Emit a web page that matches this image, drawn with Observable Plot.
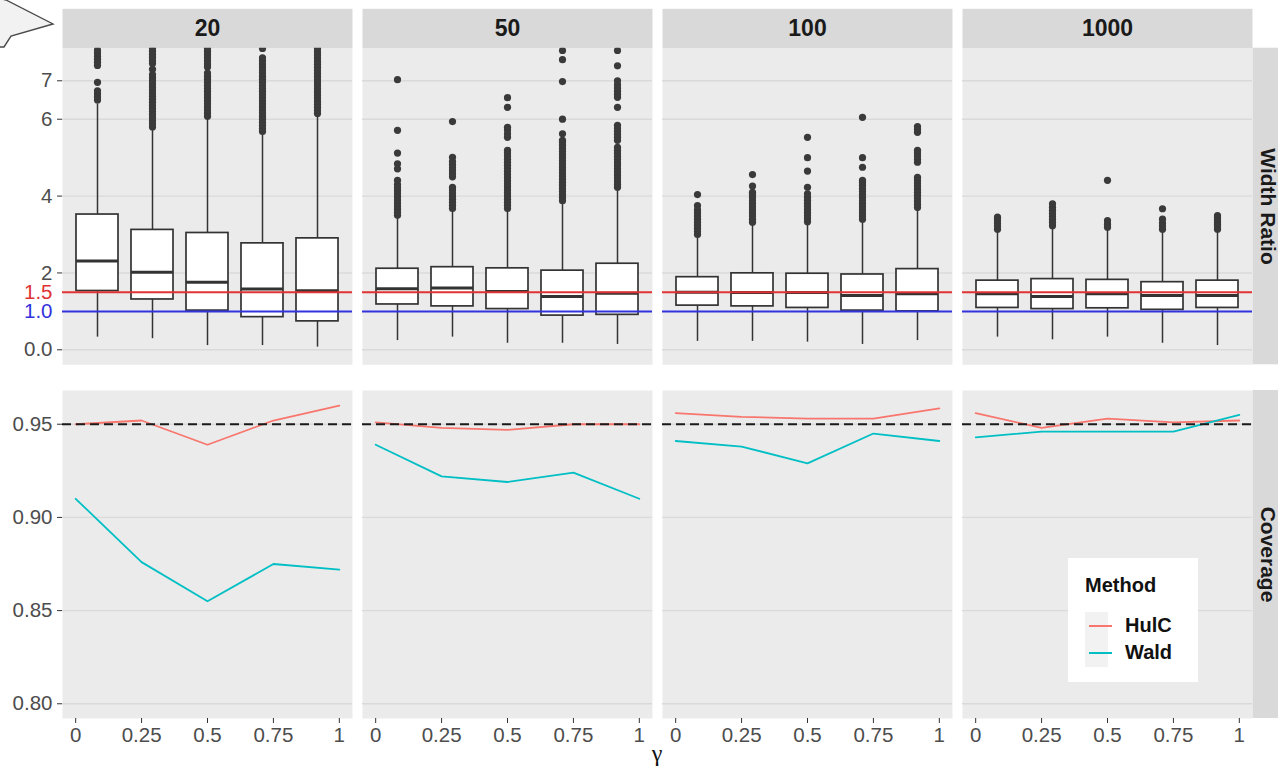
<!DOCTYPE html>
<html><head><meta charset="utf-8">
<script src="https://cdn.jsdelivr.net/npm/d3@7"></script>
<script src="https://cdn.jsdelivr.net/npm/@observablehq/plot@0.6"></script>
<style>
html,body{margin:0;padding:0;background:#fff;overflow:hidden;}
#wrap{position:relative;width:1278px;height:769px;font-family:'Liberation Sans',Arial,sans-serif;}
#topchart,#bottomchart{position:absolute;left:0;}
#topchart{top:0}
#bottomchart{top:378px}
#bubble{position:absolute;left:0;top:0;}
#gamma{position:absolute;left:640px;top:740px;width:34px;text-align:center;font-family:'Liberation Serif','DejaVu Serif',serif;font-size:24px;color:#111;line-height:26px;}
#legend{position:absolute;left:1068px;top:558px;width:130px;height:124px;background:#fff;}
#legend .title{position:absolute;left:17px;top:16px;font-weight:bold;font-size:20px;color:#111;}
#legend .keys{position:absolute;left:17px;top:54px;width:23px;height:55px;background:#F2F2F2;}
#legend .key{position:absolute;left:4px;width:23px;height:2px;}
#legend .lab{position:absolute;left:57px;font-weight:bold;font-size:20px;color:#111;}
</style></head><body>
<div id="wrap">
<div id="topchart"></div><div id="bottomchart"></div>
<svg id="bubble" width="60" height="50"><polygon points="-2,-2 6,0 53,24 11,36 4,47 -2,47" fill="#F2F2F2" stroke="#4a4a4a" stroke-width="1.4"/></svg>
<div id="gamma">γ</div>
<div id="legend"></div>
</div>
<script>
// ---------- data ----------
const sampleSizes = [20, 50, 100, 1000];
const gammaLabels = ["0", "0.25", "0.5", "0.75", "1"];
const gammaValues = [0, 0.25, 0.5, 0.75, 1];
const methods = ["HulC", "Wald"];
const methodColors = ["#F8766D", "#00BFC4"];

// Width ratio boxplot summaries, rows = sample size, cols = gamma
const whiskerLow = [
  [0.33, 0.29, 0.11, 0.11, 0.07],
  [0.24, 0.33, 0.17, 0.17, 0.14],
  [0.22, 0.22, 0.20, 0.14, 0.24],
  [0.33, 0.26, 0.33, 0.17, 0.11]];
const boxQ1 = [
  [1.53, 1.31, 1.02, 0.85, 0.74],
  [1.18, 1.13, 1.06, 0.89, 0.91],
  [1.15, 1.13, 1.09, 1.02, 1.00],
  [1.09, 1.06, 1.08, 1.04, 1.09]];
const boxMedian = [
  [2.31, 2.02, 1.76, 1.58, 1.54],
  [1.59, 1.61, 1.52, 1.39, 1.47],
  [1.50, 1.49, 1.49, 1.41, 1.46],
  [1.46, 1.39, 1.46, 1.41, 1.41]];
const boxQ3 = [
  [3.52, 3.12, 3.04, 2.77, 2.90],
  [2.11, 2.15, 2.12, 2.06, 2.24],
  [1.89, 1.99, 1.98, 1.96, 2.10],
  [1.80, 1.84, 1.82, 1.76, 1.80]];
const whiskerHigh = [
  [6.40, 5.76, 6.04, 5.63, 6.10],
  [3.45, 3.64, 3.64, 3.84, 4.19],
  [2.97, 3.28, 3.29, 3.36, 3.67],
  [3.10, 3.19, 3.15, 3.10, 3.10]];
const outliers = [
  [
    [6.5, 6.58, 6.66, 6.74, 6.96, 7.4, 7.48, 7.56, 7.64, 7.72, 7.8],
    [5.8, 5.88, 5.96, 6.04, 6.12, 6.2, 6.28, 6.36, 6.44, 6.52, 6.6, 6.68, 6.76, 6.84, 6.92, 7.0, 7.08, 7.16, 7.3, 7.45, 7.53, 7.61, 7.69, 7.77, 7.84],
    [6.08, 6.16, 6.24, 6.32, 6.4, 6.48, 6.56, 6.64, 6.72, 6.8, 6.88, 6.96, 7.04, 7.12, 7.2, 7.36, 7.44, 7.52, 7.6, 7.68, 7.76, 7.84],
    [5.68, 5.76, 5.84, 5.92, 6.0, 6.08, 6.16, 6.24, 6.32, 6.4, 6.48, 6.56, 6.64, 6.72, 6.8, 6.88, 6.96, 7.04, 7.12, 7.2, 7.28, 7.36, 7.44, 7.52, 7.6, 7.84],
    [6.15, 6.23, 6.31, 6.39, 6.47, 6.55, 6.63, 6.71, 6.79, 6.87, 6.95, 7.03, 7.11, 7.19, 7.27, 7.35, 7.43, 7.51, 7.59, 7.67, 7.75, 7.84]
  ],
  [
    [3.5, 3.58, 3.66, 3.74, 3.82, 3.9, 3.98, 4.06, 4.14, 4.22, 4.3, 4.41, 4.71, 4.84, 5.12, 5.71, 7.03],
    [3.68, 3.76, 3.84, 3.92, 4.0, 4.08, 4.16, 4.23, 4.5, 4.58, 4.66, 4.74, 4.82, 4.9, 5.01, 5.94],
    [3.68, 3.76, 3.84, 3.92, 4.0, 4.08, 4.16, 4.24, 4.32, 4.4, 4.48, 4.56, 4.64, 4.72, 4.8, 4.88, 4.96, 5.04, 5.12, 5.19, 5.53, 5.62, 5.72, 5.79, 6.31, 6.56],
    [3.88, 3.96, 4.04, 4.12, 4.2, 4.28, 4.36, 4.44, 4.52, 4.6, 4.68, 4.76, 4.84, 4.92, 5.0, 5.08, 5.16, 5.24, 5.32, 5.4, 5.45, 5.62, 6.0, 6.98, 7.55, 7.79],
    [4.23, 4.31, 4.39, 4.47, 4.55, 4.63, 4.71, 4.79, 4.87, 4.95, 5.03, 5.11, 5.19, 5.27, 5.45, 5.53, 5.6, 5.68, 5.76, 5.84, 6.31, 6.57, 6.65, 6.73, 6.81, 6.9, 7.0, 7.39, 7.79]
  ],
  [
    [3.0, 3.08, 3.16, 3.24, 3.32, 3.4, 3.48, 3.56, 3.64, 3.75, 4.04],
    [3.32, 3.4, 3.48, 3.56, 3.64, 3.72, 3.8, 3.88, 3.96, 4.04, 4.1, 4.26, 4.56],
    [3.33, 3.41, 3.49, 3.57, 3.65, 3.73, 3.81, 3.89, 3.97, 4.06, 4.23, 4.65, 5.0, 5.53],
    [3.4, 3.48, 3.56, 3.64, 3.72, 3.8, 3.88, 3.96, 4.04, 4.12, 4.2, 4.28, 4.36, 4.41, 4.75, 5.0, 6.05],
    [3.7, 3.78, 3.86, 3.94, 4.02, 4.1, 4.18, 4.26, 4.34, 4.42, 4.49, 4.88, 4.96, 5.04, 5.12, 5.19, 5.66, 5.74, 5.81]
  ],
  [
    [3.14, 3.22, 3.3, 3.38, 3.45],
    [3.23, 3.31, 3.39, 3.47, 3.55, 3.63, 3.71, 3.8],
    [3.19, 3.27, 3.36, 4.41],
    [3.14, 3.22, 3.3, 3.4, 3.67],
    [3.14, 3.2, 3.26, 3.32, 3.38, 3.44, 3.49]
  ]];
const widthTicks = [0, 2, 4, 6, 7];
const refLineHulC = 1.5;
const refLineWald = 1.0;

// Coverage, rows = sample size, cols = gamma
const hulcCoverage = [
  [0.950, 0.952, 0.939, 0.952, 0.960],
  [0.951, 0.948, 0.947, 0.950, 0.950],
  [0.956, 0.954, 0.953, 0.953, 0.9585],
  [0.956, 0.948, 0.953, 0.951, 0.952]];
const waldCoverage = [
  [0.910, 0.876, 0.855, 0.875, 0.872],
  [0.939, 0.922, 0.919, 0.924, 0.910],
  [0.941, 0.938, 0.929, 0.945, 0.941],
  [0.943, 0.946, 0.946, 0.946, 0.955]];
const coverageTicks = [0.80, 0.85, 0.90, 0.95];
const nominalLevel = 0.95;

// ---------- tables ----------
const boxRows = [], outlierRows = [], covRows = [];
sampleSizes.forEach((n, i) => gammaLabels.forEach((g, j) => {
  boxRows.push({n, g, lo: whiskerLow[i][j], q1: boxQ1[i][j], med: boxMedian[i][j], q3: boxQ3[i][j], hi: whiskerHigh[i][j]});
  outliers[i][j].forEach(v => outlierRows.push({n, g, v}));
  covRows.push({n, gamma: gammaValues[j], cov: hulcCoverage[i][j], method: methods[0]});
}));
sampleSizes.forEach((n, i) => gammaValues.forEach((gv, j) => {
  covRows.push({n, gamma: gv, cov: waldCoverage[i][j], method: methods[1]});
}));

// ---------- layout ----------
const W = 1278, ML = 62, MR = 25.3;
const facetPad = 10 / 300;
const facetRange = W - ML - MR;
const bandW = facetRange / (sampleSizes.length - facetPad) * (1 - facetPad);
const TOP_H = 378, TOP_MT = 47.7, TOP_MB = 13.7;
const topPanelH = TOP_H - TOP_MT - TOP_MB;
const stripH = 39.4;
const tickFont = 20.5;
const font = "'Liberation Sans', Arial, sans-serif";
const styleObj = {fontFamily: font, fontSize: "20px", color: "#4D4D4D", background: "transparent", overflow: "visible"};
const lastN = sampleSizes[sampleSizes.length - 1];

const topChart = Plot.plot({
  width: W, height: TOP_H, marginTop: TOP_MT, marginBottom: TOP_MB, marginLeft: ML, marginRight: MR,
  style: styleObj,
  fx: {domain: sampleSizes, paddingInner: facetPad, paddingOuter: 0, axis: null, label: null},
  x: {type: "band", domain: gammaLabels, paddingInner: 0.23, paddingOuter: 0.215, axis: null, label: null},
  y: {domain: [-0.39, 7.848], label: null},
  marks: [
    Plot.frame({fill: "#EBEBEB"}),
    Plot.frame({fill: "#D9D9D9", insetTop: -stripH, insetBottom: topPanelH}),
    Plot.text(sampleSizes, {fx: d => d, text: d => String(d), frameAnchor: "top", dy: -stripH / 2, lineAnchor: "middle", fontSize: 23, fontWeight: "bold", fill: "#1A1A1A"}),
    Plot.rect([lastN], {fx: d => d, fill: "#D9D9D9", insetLeft: bandW + 0.4, insetRight: -45}),
    Plot.text([lastN], {fx: d => d, text: () => "Width Ratio", frameAnchor: "right", textAnchor: "middle", dx: 15, rotate: 90, lineAnchor: "middle", fontSize: 21, fontWeight: "bold", fill: "#1A1A1A"}),
    Plot.gridY(widthTicks, {stroke: "#DADADA", strokeOpacity: 1, strokeWidth: 1.4}),
    Plot.ruleX(boxRows, {fx: "n", x: "g", y1: "lo", y2: "hi", stroke: "#333", strokeWidth: 1.5}),
    Plot.barY(boxRows, {fx: "n", x: "g", y1: "q1", y2: "q3", fill: "white", stroke: "#333", strokeWidth: 1.7}),
    Plot.tickY(boxRows, {fx: "n", x: "g", y: "med", stroke: "#333", strokeWidth: 3}),
    Plot.dot(outlierRows, {fx: "n", x: "g", y: "v", r: 3.6, fill: "#3A3A3A", stroke: "none", clip: true}),
    Plot.ruleY([refLineHulC], {stroke: "#E03333", strokeWidth: 2}),
    Plot.ruleY([refLineWald], {stroke: "#3333DD", strokeWidth: 2}),
    Plot.axisY(widthTicks, {facetAnchor: "left", tickFormat: d => d === 0 ? "0.0" : String(d), tickSize: 5, tickPadding: 5, fill: "#4D4D4D", stroke: "#333", fontSize: tickFont, label: null}),
    Plot.axisY([refLineHulC], {facetAnchor: "left", tickFormat: d => d.toFixed(1), tickSize: 0, tickPadding: 10, fill: "#E03333", fontSize: tickFont, label: null}),
    Plot.axisY([refLineWald], {facetAnchor: "left", tickFormat: d => d.toFixed(1), tickSize: 0, tickPadding: 10, fill: "#3333DD", fontSize: tickFont, label: null})
  ]
});
document.getElementById("topchart").appendChild(topChart);

const BOT_H = 391, BOT_MT = 12, BOT_MB = 51;
const bottomChart = Plot.plot({
  width: W, height: BOT_H, marginTop: BOT_MT, marginBottom: BOT_MB, marginLeft: ML, marginRight: MR,
  style: styleObj,
  fx: {domain: sampleSizes, paddingInner: facetPad, paddingOuter: 0, axis: null, label: null},
  x: {domain: [-0.05, 1.05], label: null},
  y: {domain: [0.7921, 0.9681], label: null},
  color: {domain: methods, range: methodColors},
  marks: [
    Plot.frame({fill: "#EBEBEB"}),
    Plot.rect([lastN], {fx: d => d, fill: "#D9D9D9", insetLeft: bandW + 0.4, insetRight: -45}),
    Plot.text([lastN], {fx: d => d, text: () => "Coverage", frameAnchor: "right", textAnchor: "middle", dx: 15, rotate: 90, lineAnchor: "middle", fontSize: 21, fontWeight: "bold", fill: "#1A1A1A"}),
    Plot.gridY(coverageTicks, {stroke: "#DADADA", strokeOpacity: 1, strokeWidth: 1.4}),
    Plot.lineY(covRows, {fx: "n", x: "gamma", y: "cov", stroke: "method", strokeWidth: 1.8}),
    Plot.ruleY([nominalLevel], {stroke: "#1A1A1A", strokeWidth: 2.2, strokeDasharray: "9,5"}),
    Plot.axisY(coverageTicks, {facetAnchor: "left", tickFormat: d3.format(".2f"), tickSize: 5, tickPadding: 5, fill: "#4D4D4D", stroke: "#333", fontSize: tickFont, label: null}),
    Plot.axisX(gammaValues, {tickFormat: d => gammaLabels[gammaValues.indexOf(d)], tickSize: 5, tickPadding: 4, fill: "#4D4D4D", stroke: "#333", fontSize: tickFont, label: null})
  ]
});
document.getElementById("bottomchart").appendChild(bottomChart);

// legend
const lg = document.getElementById("legend");
let html = '<div class="title">Method</div><div class="keys">';
methods.forEach((m, i) => { html += `<div class="key" style="top:${13 + i * 27}px;background:${methodColors[i]}"></div>`; });
html += '</div>';
methods.forEach((m, i) => { html += `<div class="lab" style="top:${56 + i * 27}px">${m}</div>`; });
lg.innerHTML = html;
</script>
</body></html>
